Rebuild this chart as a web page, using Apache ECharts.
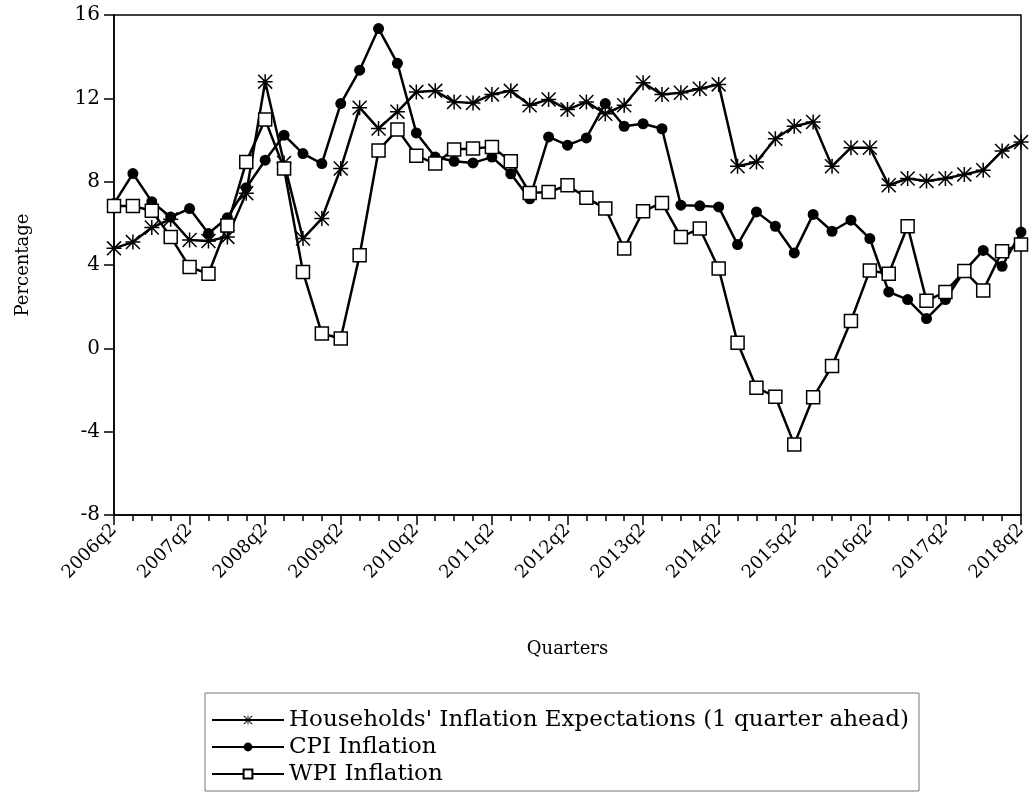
<!DOCTYPE html>
<html>
<head>
<meta charset="utf-8">
<title>Inflation expectations vs CPI and WPI inflation</title>
<script src="https://cdn.jsdelivr.net/npm/echarts@6.0.0/dist/echarts.min.js"></script>
<style>
  html, body { margin: 0; padding: 0; background: #fff; }
  #chart { width: 1033px; height: 796px; }
</style>
</head>
<body>
<div id="chart"></div>
<script>
// quarters 2006q2 .. 2018q2
const years = [2006, 2007, 2008, 2009, 2010, 2011, 2012, 2013, 2014, 2015, 2016, 2017, 2018];
const quarters = [];
for (let i = 0; i < 49; i++) {
    const q = 2 + i;
    quarters.push(years[0] + Math.floor((q - 1) / 4) + 'q' + (((q - 1) % 4) + 1));
}

// households' inflation expectations (1 quarter ahead)
const expectations = [
    4.8, 5.1, 5.8, 6.2, 5.2, 5.15, 5.35, 7.45, 12.8, 8.9,
    5.27, 6.23, 8.63, 11.55, 10.55, 11.36, 12.3, 12.36, 11.83, 11.78,
    12.19, 12.36, 11.67, 11.95, 11.46, 11.83, 11.26, 11.67, 12.75, 12.18,
    12.27, 12.46, 12.67, 8.74, 8.94, 10.06, 10.66, 10.87, 8.74, 9.63,
    9.63, 7.83, 8.15, 8.03, 8.15, 8.35, 8.55, 9.47, 9.9
];

// CPI inflation
const cpi = [
    6.95, 8.39, 7.04, 6.3, 6.71, 5.51, 6.27, 7.71, 9.03, 10.23,
    9.35, 8.87, 11.75, 13.35, 15.35, 13.68, 10.34, 9.18, 8.98, 8.9,
    9.18, 8.38, 7.18, 10.15, 9.75, 10.1, 11.75, 10.66, 10.78, 10.54,
    6.87, 6.84, 6.79, 4.98, 6.55, 5.86, 4.58, 6.43, 5.62, 6.15,
    5.27, 2.71, 2.34, 1.43, 2.34, 3.71, 4.7, 3.94, 5.58
];

// WPI inflation
const wpi = [
    6.83, 6.83, 6.6, 5.35, 3.9, 3.58, 5.9, 8.95, 10.98, 8.63,
    3.67, 0.71, 0.47, 4.47, 9.5, 10.5, 9.25, 8.87, 9.54, 9.59,
    9.67, 8.98, 7.46, 7.5, 7.83, 7.23, 6.71, 4.79, 6.58, 6.98,
    5.35, 5.75, 3.83, 0.27, -1.89, -2.32, -4.61, -2.35, -0.85, 1.31,
    3.74, 3.58, 5.86, 2.28, 2.71, 3.71, 2.78, 4.66, 4.98
];

const seriesNames = [
    "Households' Inflation Expectations (1 quarter ahead)",
    'CPI Inflation',
    'WPI Inflation'
];

// asterisk marker: vertical, horizontal and two diagonal strokes
const asterisk = 'path://M9,0L11,0L11,20L9,20Z M0,9L20,9L20,11L0,11Z ' +
    'M1.4,0L20,18.6L18.6,20L0,1.4Z M18.6,0L20,1.4L1.4,20L0,18.6Z';

// x is the quarter index so the axis can carry yearly ticks plus quarterly minor ticks
const withIndex = vals => vals.map((v, i) => [i, v]);

const font = 'DejaVu Serif';
const chart = echarts.init(document.getElementById('chart'));

const option = {
    backgroundColor: '#fff',
    animation: false,
    textStyle: { fontFamily: font, color: '#000' },
    grid: {
        left: 114, right: 12, top: 15, bottom: 281,
        show: true, borderColor: '#000', borderWidth: 1.5,
        containLabel: false
    },
    legend: {
        orient: 'vertical',
        left: 205, top: 693,
        padding: [15, 10, 5, 6],
        itemGap: 3,
        itemWidth: 72, itemHeight: 11,
        borderColor: '#777', borderWidth: 1,
        data: seriesNames,
        textStyle: { fontFamily: font, fontSize: 23, lineHeight: 24, color: '#000' }
    },
    xAxis: {
        type: 'value',
        min: 0, max: quarters.length - 1, interval: 4,
        name: 'Quarters',
        nameLocation: 'middle',
        nameGap: 125,
        nameTextStyle: { fontFamily: font, fontSize: 18, color: '#000' },
        axisLine: { onZero: false, lineStyle: { color: '#000', width: 1.5 } },
        axisTick: { show: true, length: 10, lineStyle: { color: '#000', width: 1.5 } },
        minorTick: { show: true, splitNumber: 4, length: 6, lineStyle: { color: '#000', width: 1.5 } },
        axisLabel: {
            rotate: 45, margin: 12,
            fontFamily: font, fontSize: 18, color: '#000',
            formatter: v => quarters[v]
        },
        splitLine: { show: false },
        minorSplitLine: { show: false }
    },
    yAxis: {
        type: 'value',
        min: -8, max: 16, interval: 4,
        name: 'Percentage',
        nameLocation: 'middle',
        nameGap: 82,
        nameTextStyle: { fontFamily: font, fontSize: 18, color: '#000' },
        axisLine: { show: true, lineStyle: { color: '#000', width: 1.5 } },
        axisTick: { show: true, length: 10, lineStyle: { color: '#000', width: 1.5 } },
        axisLabel: { margin: 14, fontFamily: font, fontSize: 20, color: '#000' },
        splitLine: { show: false }
    },
    series: [
        {
            name: seriesNames[0],
            type: 'line',
            data: withIndex(expectations),
            symbol: asterisk,
            symbolSize: 15,
            showAllSymbol: true,
            lineStyle: { color: '#000', width: 2.5 },
            itemStyle: { color: '#000', borderWidth: 0 },
            z: 3
        },
        {
            name: seriesNames[1],
            type: 'line',
            data: withIndex(cpi),
            symbol: 'circle',
            symbolSize: 11,
            showAllSymbol: true,
            lineStyle: { color: '#000', width: 2.5 },
            itemStyle: { color: '#000', borderWidth: 0 },
            z: 4
        },
        {
            name: seriesNames[2],
            type: 'line',
            data: withIndex(wpi),
            symbol: 'rect',
            symbolSize: 13,
            showAllSymbol: true,
            lineStyle: { color: '#000', width: 2.5 },
            itemStyle: { color: '#fff', borderColor: '#000', borderWidth: 1.5 },
            z: 5
        }
    ]
};

chart.setOption(option);
</script>
</body>
</html>
